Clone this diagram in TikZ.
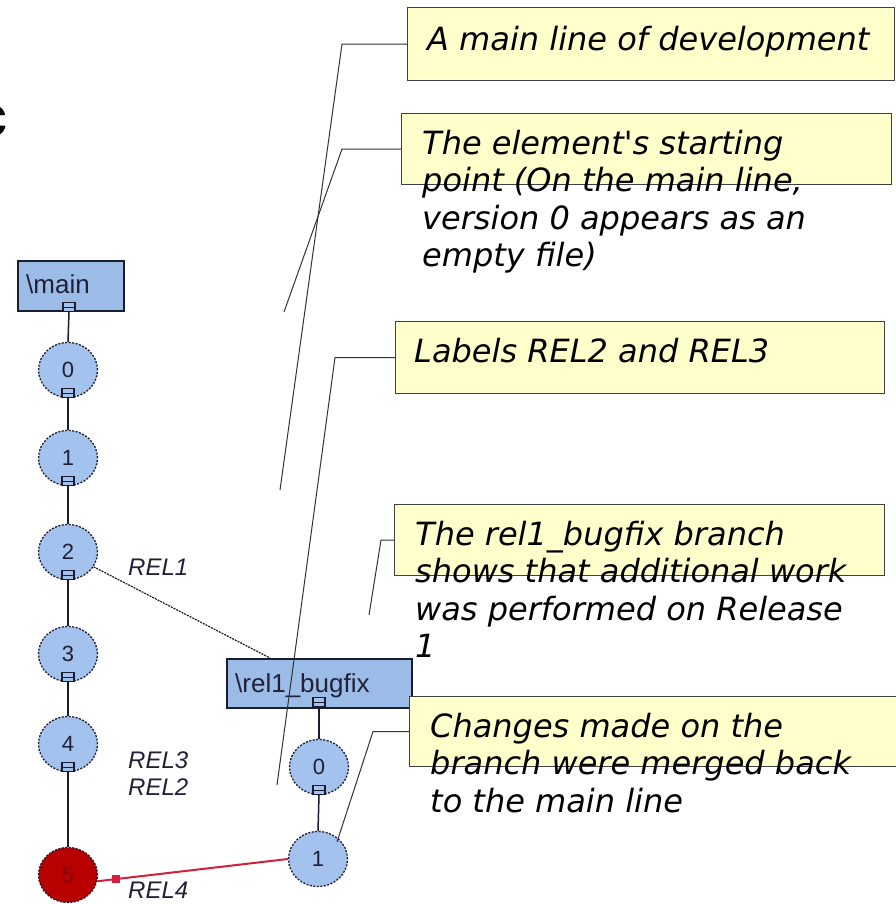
\documentclass[tikz,border=0pt]{standalone}
\usepackage{fontspec}
\usetikzlibrary{shapes.geometric}
\newfontfamily\callfont{DejaVu Sans}
\newfontfamily\diafont{Liberation Sans}
\newfontfamily\cutfont{Liberation Mono}
\definecolor{callyellow}{HTML}{FFFFCC}
\definecolor{callborder}{HTML}{404040}
\definecolor{leadgray}{HTML}{333333}
\definecolor{nodeblue}{HTML}{A4C2EE}
\definecolor{boxblue}{HTML}{9CBCE8}
\definecolor{nodeborder}{HTML}{1C1C30}
\definecolor{darkred}{HTML}{B80000}
\definecolor{mergered}{HTML}{D0203A}
\definecolor{diatext}{HTML}{202038}
\begin{document}
\begin{tikzpicture}[x=1pt,y=-1pt,
  callbox/.style={draw=callborder, fill=callyellow, line width=1.1pt, anchor=north west, inner sep=0},
  calltext/.style={anchor=base west, inner sep=0, align=left, font=\fontsize{32}{37.5}\selectfont\callfont\itshape},
  leader/.style={draw=leadgray, line width=1pt},
  vnode/.style={ellipse, minimum width=59pt, minimum height=55pt, inner sep=0, fill=nodeblue, draw=nodeborder, dash pattern=on 2pt off 1.5pt, line width=1.3pt, text=diatext, font=\fontsize{22}{22}\selectfont\diafont},
  sqr/.style={draw=nodeborder, fill=nodeblue, line width=1.2pt, minimum width=12pt, minimum height=9pt, inner sep=0,
     path picture={\draw[nodeborder, line width=1pt] (path picture bounding box.west) -- (path picture bounding box.east);}},
  brbox/.style={draw=nodeborder, fill=boxblue, line width=1.5pt, anchor=north west, inner sep=0},
  brtext/.style={anchor=base west, inner sep=0, text=diatext, font=\fontsize{26}{26}\selectfont\diafont},
  reltext/.style={anchor=base west, inner sep=0, text=diatext, font=\fontsize{24}{24}\selectfont\diafont\itshape},
  conn/.style={draw=nodeborder, line width=1.5pt},
  mergemark/.style={fill=mergered, minimum size=8pt, inner sep=0}
]
\useasboundingbox (0,0) rectangle (895,904);
\fill[white] (0,0) rectangle (895,904);

% cut-off letter at left edge
\node[anchor=base west, inner sep=0, font=\fontsize{58}{58}\selectfont\cutfont\bfseries] (cfrag) at (-26,137) {c};

% ---------- main line ----------
\node[brbox, minimum width=106pt, minimum height=50pt] (mainbox) at (17,260) {};
\node[brtext] (maintext) at (26,293) {\textbackslash main};
\node[sqr] (sqm) at (69,307) {};

\node[vnode] (n0) at (68,370) {0};
\node[vnode] (n1) at (68,458) {1};
\node[vnode] (n2) at (68,552) {2};
\node[vnode] (n3) at (68,654) {3};
\node[vnode] (n4) at (68,744) {4};
\node[vnode, fill=darkred, text=darkred!70!black] (n5) at (68,875) {5};

\node[sqr] (sq0) at (68,393) {};
\node[sqr] (sq1) at (68,481) {};
\node[sqr] (sq2) at (68,575) {};
\node[sqr] (sq3) at (68,677) {};
\node[sqr] (sq4) at (68,767) {};

\draw[conn] (sqm.south) -- (n0.north);
\draw[conn] (sq0.south) -- (n1.north);
\draw[conn] (sq1.south) -- (n2.north);
\draw[conn] (sq2.south) -- (n3.north);
\draw[conn] (sq3.south) -- (n4.north);
\draw[conn] (sq4.south) -- (n5.north);

% ---------- branch ----------
\node[brbox, minimum width=185pt, minimum height=49pt] (rbox) at (226,658) {};
\node[brtext] (rtext) at (235,692) {\textbackslash rel1\_bugfix};
\node[sqr] (sqr0) at (319,702) {};
\draw[draw=nodeborder, line width=1.2pt, dash pattern=on 2pt off 1pt] (n2.-30) -- ([xshift=44pt]rbox.north west);

\node[vnode] (b0) at (319,767) {0};
\node[sqr] (sqb0) at (319,790) {};
\node[vnode] (b1) at (318,859) {1};
\draw[conn] (sqr0.south) -- (b0.north);
\draw[conn] (sqb0.south) -- (b1.north);

% merge arrow
\draw[mergered, line width=2pt] (b1.west) -- (n5.-12) node[mergemark, pos=0.9] (mark) {};

% labels
\node[reltext] (rel1) at (128,575) {REL1};
\node[reltext] (rel3) at (128,768) {REL3};
\node[reltext] (rel2) at (128,795) {REL2};
\node[reltext] (rel4) at (128,898) {REL4};

% ---------- callouts ----------
\node[callbox, minimum width=487pt, minimum height=73pt] (c1) at (407,7) {};
\node[callbox, minimum width=490pt, minimum height=71pt] (c2) at (401,113) {};
\node[callbox, minimum width=489pt, minimum height=72pt] (c3) at (395,321) {};
\node[callbox, minimum width=490pt, minimum height=71pt] (c4) at (394,504) {};
\node[callbox, minimum width=520pt, minimum height=70pt] (c5) at (409,696) {};

% multi-line texts: base anchor is the baseline of the last line
\node[calltext] (t1) at (427,51) {A main line of development};
\node[calltext] (t2) at (422,266.5) {The element's starting\\point (On the main line,\\version 0 appears as an\\empty file)};
\node[calltext] (t3) at (414,362) {Labels REL2 and REL3};
\node[calltext] (t4) at (415,657.5) {The rel1\_bugfix branch\\shows that additional work\\was performed on Release\\1};
\node[calltext] (t5) at (430,812) {Changes made on the\\branch were merged back\\to the main line};

\coordinate (e1) at (280,490);
\coordinate (e2) at (284,312);
\coordinate (e3) at (277,785);
\coordinate (e4) at (369,615);
\coordinate (e5) at (337,842);

\draw[leader] (c1.west) -- ++(-65,0) -- (e1);
\draw[leader] (c2.west) -- ++(-59,0) -- (e2);
\draw[leader] (c3.west) -- ++(-60,0) -- (e3);
\draw[leader] (c4.west) -- ++(-13,0) -- (e4);
\draw[leader] (c5.west) -- ++(-36,0) -- (e5);
\end{tikzpicture}
\end{document}
